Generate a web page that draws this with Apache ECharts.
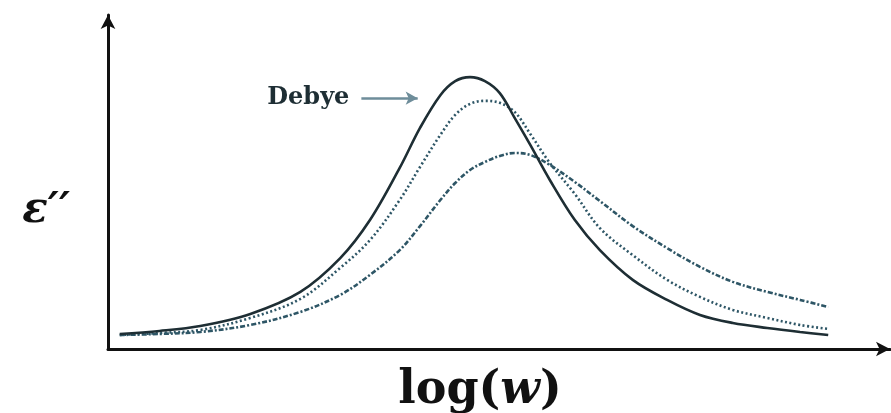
<!DOCTYPE html>
<html>
<head>
<meta charset="utf-8">
<script src="https://cdn.jsdelivr.net/npm/echarts@6/dist/echarts.min.js"></script>
<style>html,body{margin:0;padding:0;background:#fff;}#c{width:891px;height:413px;}</style>
</head>
<body>
<div id="c"></div>
<script>
// log(w) positions (arbitrary units 0..100)
const logW = [1.5, 6.6, 11.8, 18.2, 24.6, 29.7, 33.5, 37.3, 39.9, 42.5, 44.4, 46.3, 48.2, 50.1, 52.0, 54.0, 56.5, 59.7, 62.9, 67.1, 71.5, 75.7, 79.9, 84.3, 88.5, 92.1];
// ε'' values (arbitrary units 0..100)
const debye = [4.5, 5.4, 6.9, 10.5, 17.1, 27.2, 38.6, 54.2, 66.2, 76.0, 80.2, 81.4, 80.2, 76.6, 69.2, 61.1, 50.6, 38.6, 29.6, 20.7, 14.7, 10.2, 7.8, 6.3, 5.1, 4.2];
const dotted = [4.2, 4.8, 5.7, 9.3, 15.0, 24.3, 32.6, 44.6, 54.5, 64.1, 70.1, 73.4, 74.3, 73.7, 71.0, 64.4, 55.7, 46.4, 36.2, 28.1, 20.7, 15.6, 11.7, 9.3, 7.2, 6.0];
const dashDot = [4.2, 4.5, 5.1, 7.2, 11.1, 16.2, 22.2, 29.6, 36.8, 44.6, 49.7, 53.6, 56.0, 57.8, 58.7, 58.1, 55.1, 50.0, 44.3, 36.8, 30.2, 24.6, 20.1, 17.1, 14.7, 12.6];
// annotation arrow (data coordinates)
const debyeArrow = [[32.4, 75.1], [39.6, 75.1]];
const debyeLabel = 'Debye';

const pairs = ys => logW.map((x, i) => [x, ys[i]]);
const chart = echarts.init(document.getElementById('c'));
chart.setOption({
  backgroundColor: '#fff',
  animation: false,
  grid: { left: 108, top: 15, width: 782, height: 334, containLabel: false, outerBoundsMode: 'none' },
  xAxis: {
    type: 'value', min: 0, max: 100,
    axisLine: { show: true, symbol: ['none', 'arrow'], symbolSize: [11, 14], lineStyle: { color: '#111', width: 3 } },
    axisTick: { show: false }, axisLabel: { show: false }, splitLine: { show: false },
    name: '{a|log(}{b|w}{a|)}', nameLocation: 'middle', nameGap: 19,
    nameTextStyle: {
      padding: [0, 38, 0, 0],
      rich: {
        a: { fontFamily: 'DejaVu Serif', fontWeight: 'bold', fontSize: 46, color: '#111' },
        b: { fontFamily: 'DejaVu Serif', fontWeight: 'bold', fontStyle: 'italic', fontSize: 46, color: '#111' }
      }
    }
  },
  yAxis: {
    type: 'value', min: 0, max: 100,
    axisLine: { show: true, symbol: ['none', 'arrow'], symbolSize: [11, 14], lineStyle: { color: '#111', width: 3 } },
    axisTick: { show: false }, axisLabel: { show: false }, splitLine: { show: false },
    name: 'ε′′', nameLocation: 'middle', nameRotate: 0, nameGap: 38,
    nameTextStyle: { fontFamily: 'DejaVu Serif', fontWeight: 'bold', fontStyle: 'italic', fontSize: 42, lineHeight: 58, color: '#111', verticalAlign: 'top' }
  },
  series: [
    {
      type: 'line', data: pairs(dashDot), smooth: 0.35, symbol: 'none',
      lineStyle: { color: '#2e5666', width: 2.6, type: [5, 2, 2, 2] }
    },
    {
      type: 'line', data: pairs(dotted), smooth: 0.35, symbol: 'none',
      lineStyle: { color: '#2e5666', width: 2.6, type: [2, 2.5] }
    },
    {
      type: 'line', data: pairs(debye), smooth: 0.35, symbol: 'none',
      lineStyle: { color: '#1e2e34', width: 2.6 },
      markLine: {
        silent: true, animation: false,
        symbol: ['none', 'arrow'], symbolSize: [10, 12],
        lineStyle: { color: '#6e8d9a', width: 2.5, type: 'solid' },
        label: { show: true, position: 'start', formatter: debyeLabel, distance: 12,
          fontFamily: 'DejaVu Serif', fontWeight: 'bold', fontSize: 24, color: '#1e2e34' },
        data: [[{ coord: debyeArrow[0] }, { coord: debyeArrow[1] }]]
      }
    }
  ]
});
</script>
</body>
</html>
